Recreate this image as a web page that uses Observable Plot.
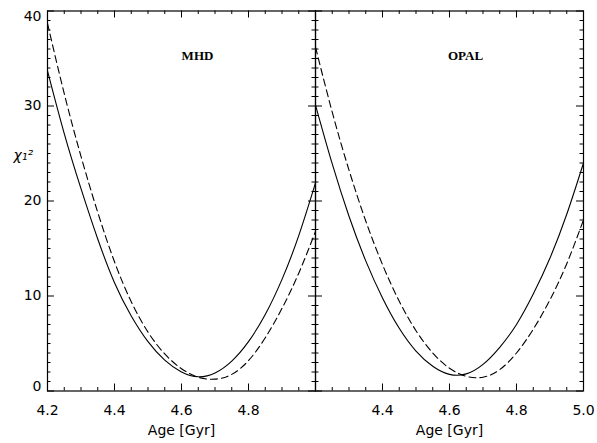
<!DOCTYPE html>
<html><head><meta charset="utf-8">
<script src="https://cdn.jsdelivr.net/npm/d3@7"></script>
<script src="https://cdn.jsdelivr.net/npm/@observablehq/plot@0.6"></script>
<style>
body{margin:0;background:#fff;}
#chart svg{display:block;overflow:visible;}
</style>
</head><body><div id="chart"></div>
<script>
// ---- data ----
const panels = ["MHD", "OPAL"];
const ages = [4.20, 4.25, 4.30, 4.35, 4.40, 4.45, 4.50, 4.55, 4.60, 4.65, 4.70, 4.75, 4.80, 4.85, 4.90, 4.95, 5.00];
const mhdSolid  = [33.7, 27.1, 21.3, 16.0, 11.4, 7.9, 5.2, 3.25, 2.0, 1.5, 1.9, 3.15, 5.2, 8.05, 11.75, 16.35, 21.9];
const mhdDashed = [38.7, 31.3, 24.7, 18.8, 13.6, 9.4, 6.2, 3.9, 2.35, 1.45, 1.25, 1.75, 3.2, 5.6, 8.7, 12.4, 16.8];
const opalSolid = [30.1, 23.9, 18.4, 13.7, 9.8, 6.6, 4.2, 2.6, 1.75, 1.8, 2.8, 4.6, 7.0, 10.2, 14.0, 18.6, 24.0];
const opalDashed= [36.2, 29.35, 23.25, 17.9, 13.3, 9.45, 6.35, 4.0, 2.4, 1.55, 1.45, 2.25, 4.0, 6.5, 9.6, 13.4, 18.0];

const xMajorTicks = [4.2, 4.4, 4.6, 4.8, 5.0];
const xMinorTicks = [4.25, 4.30, 4.35, 4.45, 4.50, 4.55, 4.65, 4.70, 4.75, 4.85, 4.90, 4.95];
const yMajorTicks = [0, 10, 20, 30, 40];
const yMinorTicks = [1,2,3,4,5,6,7,8,9,11,12,13,14,15,16,17,18,19,21,22,23,24,25,26,27,28,29,31,32,33,34,35,36,37,38,39];
const mhdXLabels  = ["4.2", "4.4", "4.6", "4.8"];
const opalXLabels = ["4.4", "4.6", "4.8", "5.0"];
const yLabelsMid  = ["10", "20", "30"];
const yLabelBottom = ["0"];
const yLabelTop    = ["40"];
const xTitle = "Age [Gyr]";
const yTitle = "χ\u2081\u00B2";

// ---- table for the library ----
const series = [
  {panel: "MHD",  model: "solid",  values: mhdSolid},
  {panel: "MHD",  model: "dashed", values: mhdDashed},
  {panel: "OPAL", model: "solid",  values: opalSolid},
  {panel: "OPAL", model: "dashed", values: opalDashed}
];
const rows = series.flatMap(s => ages.map((a, i) => ({panel: s.panel, model: s.model, age: a, chi: s.values[i]})));

// ---- layout ----
const W = 597, H = 443;
const mL = 46.7, mR = 14.3, mT = 10.5, mB = 52.5;
const FW = (W - mL - mR) / 2, FH = H - mT - mB;
const major = 7, minor = 3.5;
const sans = "DejaVu Sans, Liberation Sans, sans-serif";

const tickStyle = {stroke: "black", strokeWidth: 1};

const chart = Plot.plot({
  width: W, height: H,
  marginLeft: mL, marginRight: mR, marginTop: mT, marginBottom: mB,
  style: {fontFamily: sans, background: "white"},
  fx: {domain: panels, padding: 0, axis: null},
  x: {domain: [4.2, 5.0], axis: null},
  y: {domain: [0, 40], axis: null},
  marks: [
    // inward ticks on all four sides of each panel
    Plot.tickX(xMajorTicks, {x: d => d, insetTop: FH - major, ...tickStyle}),
    Plot.tickX(xMinorTicks, {x: d => d, insetTop: FH - minor, ...tickStyle}),
    Plot.tickX(xMajorTicks, {x: d => d, insetBottom: FH - major, ...tickStyle}),
    Plot.tickX(xMinorTicks, {x: d => d, insetBottom: FH - minor, ...tickStyle}),
    Plot.tickY(yMajorTicks, {y: d => d, insetRight: FW - major, ...tickStyle}),
    Plot.tickY(yMinorTicks, {y: d => d, insetRight: FW - minor, ...tickStyle}),
    Plot.tickY(yMajorTicks, {y: d => d, insetLeft: FW - major, ...tickStyle}),
    Plot.tickY(yMinorTicks, {y: d => d, insetLeft: FW - minor, ...tickStyle}),
    Plot.frame({stroke: "black", strokeWidth: 1.2}),
    // curves
    Plot.line(rows.filter(d => d.model === "solid"), {fx: "panel", x: "age", y: "chi", z: "panel", curve: "natural", stroke: "black", strokeWidth: 1.1}),
    Plot.line(rows.filter(d => d.model === "dashed"), {fx: "panel", x: "age", y: "chi", z: "panel", curve: "natural", stroke: "black", strokeWidth: 1.1, strokeDasharray: "7,4"}),
    // panel labels
    Plot.text(panels, {fx: d => d, text: d => d, frameAnchor: "top", dx: 16, dy: 40, fontFamily: "Liberation Serif, serif", fontWeight: "bold", fontSize: 13, fill: "black"}),
    // x tick labels
    Plot.text(mhdXLabels, {fx: () => "MHD", x: d => +d, text: d => d, frameAnchor: "bottom", dy: 20, lineAnchor: "middle", fontSize: 14, fill: "black"}),
    Plot.text(opalXLabels, {fx: () => "OPAL", x: d => +d, text: d => d, frameAnchor: "bottom", dy: 20, lineAnchor: "middle", fontSize: 14, fill: "black"}),
    // y tick labels (left panel only)
    Plot.text(yLabelsMid, {fx: () => "MHD", y: d => +d, text: d => d, frameAnchor: "left", dx: -6, textAnchor: "end", lineAnchor: "middle", fontSize: 14, fill: "black"}),
    Plot.text(yLabelBottom, {fx: () => "MHD", y: d => +d, text: d => d, frameAnchor: "left", dx: -6, textAnchor: "end", lineAnchor: "bottom", fontSize: 14, fill: "black"}),
    Plot.text(yLabelTop, {fx: () => "MHD", y: d => +d, text: d => d, frameAnchor: "left", dx: -6, textAnchor: "end", lineAnchor: "top", fontSize: 14, fill: "black"}),
    // axis titles
    Plot.text(panels, {fx: d => d, text: () => xTitle, frameAnchor: "bottom", dy: 40, lineAnchor: "middle", fontSize: 14, fill: "black"}),
    Plot.text([yTitle], {fx: () => "MHD", text: d => d, frameAnchor: "top-left", dx: -34, dy: 145, textAnchor: "start", lineAnchor: "middle", fontSize: 14, fontStyle: "italic", fill: "black"})
  ]
});
document.getElementById("chart").appendChild(chart);
</script>
</body></html>
